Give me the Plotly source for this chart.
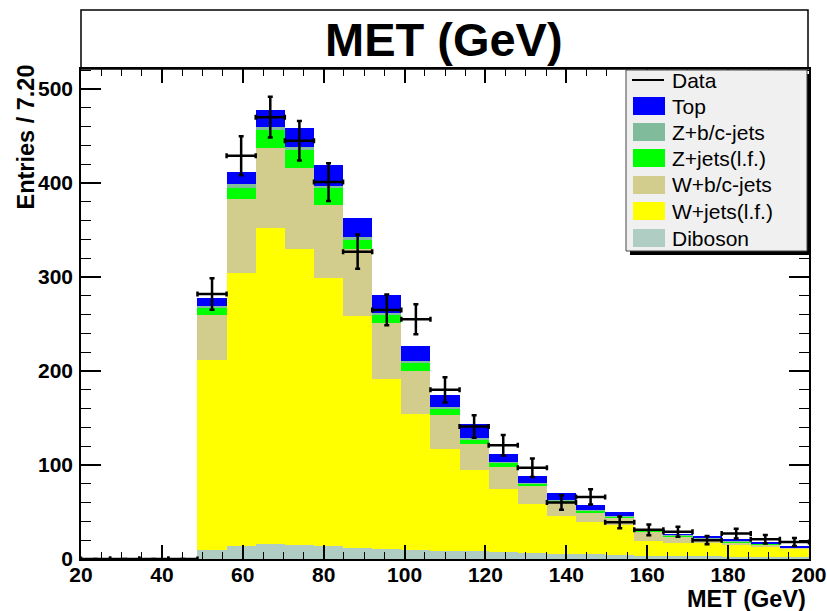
import plotly.graph_objects as go

# ---------------- data ----------------
bin_width = 7.2
bin_centers = [23.6, 30.8, 38.0, 45.2, 52.4, 59.6, 66.8, 74.0, 81.2, 88.4, 95.6, 102.8,
               110.0, 117.2, 124.4, 131.6, 138.8, 146.0, 153.2, 160.4, 167.6, 174.8,
               182.0, 189.2, 196.4]

data_counts = [0, 0, 0, 0, 282, 429, 470, 445, 401, 327, 265, 255, 180, 141, 121, 97,
               60, 66, 39, 31, 29, 20, 27, 21, 18]
data_err = [0, 0, 0, 0, 16.8, 20.7, 21.7, 21.1, 20.0, 18.1, 16.3, 16.0, 13.4, 11.9,
            11.0, 9.8, 7.7, 8.1, 6.2, 5.6, 5.4, 4.4, 5.2, 4.6, 4.3]

diboson = [0, 0, 0, 0, 10, 14, 16, 15, 14, 12, 11, 10, 9, 8, 7, 6, 5, 5, 4, 3, 3, 3, 2, 2, 2]
wjets_lf = [0, 0, 0, 0, 202, 290, 336, 315, 285, 246, 181, 144, 108, 87, 67, 53, 41, 34,
            32, 16.5, 14.4, 13.7, 13, 11.2, 8.9]
wjets_bc = [0, 0, 0, 0, 48, 79, 85, 86, 78, 72, 59, 46, 36, 27, 24, 19, 14, 10.6, 7.3,
            9.5, 6.4, 4.2, 2.4, 2.3, 1.1]
zjets_lf = [0, 0, 0, 0, 8, 11.5, 19, 19, 17.7, 9.5, 9, 9, 7, 5, 4.5, 2.1, 2, 2.1, 2.4,
            1.4, 1.7, 1.4, 1.1, 0.5, 0.5]
zjets_bc = [0, 0, 0, 0, 1, 4, 3.6, 3.6, 2.5, 3.6, 2, 2, 1.6, 1.5, 1, 0.8, 0.7, 0.6, 0.5,
            0.3, 0.3, 0.3, 0.2, 0.2, 0.1]
top = [0, 0, 0, 0, 9, 13.5, 17.7, 19.8, 21.6, 19.2, 19, 16, 13, 15, 8.2, 7, 7.3, 5.5,
       3.4, 0.9, 0.8, 1.2, 2.3, 1.2, 0.4]

# stack order bottom -> top
stack_names = ["Diboson", "W+jets(l.f.)", "W+b/c-jets", "Z+jets(l.f.)", "Z+b/c-jets", "Top"]
stack_values = [diboson, wjets_lf, wjets_bc, zjets_lf, zjets_bc, top]
stack_colors = ["#afcdc3", "#ffff00", "#d2cd8c", "#00ff00", "#80bc9c", "#0000ff"]

title_text = "MET (GeV)"
x_title = "MET (GeV)"
y_title = "Entries / 7.20"

# ---------------- figure ----------------
W, H = 827, 611
L, R, T, B = 81, 809, 69, 559   # plot area pixels


def px(x):
    return (x - L) / (R - L)


def py(y):
    return (B - y) / (B - T)


fig = go.Figure()
for name, vals, col in zip(stack_names, stack_values, stack_colors):
    fig.add_trace(go.Bar(
        x=bin_centers, y=vals, width=bin_width, name=name,
        marker=dict(color=col, line=dict(width=0)), showlegend=False))

fig.add_trace(go.Scatter(
    x=bin_centers, y=data_counts, mode="markers", name="Data",
    marker=dict(size=1, color="black"),
    error_x=dict(type="constant", value=bin_width / 2, width=2.5, thickness=2.5, color="black"),
    error_y=dict(type="data", array=data_err, width=2.5, thickness=2.5, color="black"),
    showlegend=False))

axis_font = dict(family="Liberation Sans", size=21, color="black", weight="bold")
title_font = dict(family="Liberation Sans", size=23.5, color="black", weight="bold")

fig.update_layout(
    width=W, height=H,
    margin=dict(l=L, r=W - R, t=T, b=H - B, pad=0, autoexpand=False),
    barmode="stack", bargap=0,
    paper_bgcolor="white", plot_bgcolor="white",
    showlegend=False,
    xaxis=dict(range=[20, 200], dtick=20, tick0=20, showgrid=False, zeroline=False,
               automargin=False,
               showline=True, linecolor="black", linewidth=1.5, mirror="ticks",
               ticks="inside", ticklen=14, tickwidth=1.5, tickcolor="black",
               minor=dict(ticks="inside", ticklen=7, dtick=5, tickcolor="black", tickwidth=1.2),
               tickfont=axis_font, ticklabelstandoff=-4),
    yaxis=dict(range=[0, 521.3], dtick=100, showgrid=False, zeroline=False,
               automargin=False,
               showline=True, linecolor="black", linewidth=1.5, mirror="ticks",
               ticks="inside", ticklen=20, tickwidth=1.5, tickcolor="black",
               minor=dict(ticks="inside", ticklen=10, dtick=20, tickcolor="black", tickwidth=1.2),
               tickfont=axis_font, ticklabelstandoff=2),
)

shapes = []
annotations = []

# title box
shapes.append(dict(type="rect", xref="paper", yref="paper",
                   x0=px(81), x1=px(808), y0=py(69), y1=py(10),
                   line=dict(color="black", width=1.5), fillcolor="rgba(0,0,0,0)"))
annotations.append(dict(text=title_text, xref="paper", yref="paper",
                        x=px(444), y=py(40), xanchor="center", yanchor="middle",
                        showarrow=False,
                        font=dict(family="Liberation Sans", size=47, color="black", weight="bold")))

# axis titles
annotations.append(dict(text=x_title, xref="paper", yref="paper",
                        x=px(808), y=py(599), xanchor="right", yanchor="middle",
                        showarrow=False, font=title_font))
annotations.append(dict(text=y_title, xref="paper", yref="paper",
                        x=px(25), y=py(63), xanchor="center", yanchor="top",
                        textangle=-90, showarrow=False, font=title_font))

# legend: shadow + box
shapes.append(dict(type="rect", xref="paper", yref="paper",
                   x0=px(630), x1=px(811), y0=py(255), y1=py(74),
                   line=dict(width=0), fillcolor="black"))
shapes.append(dict(type="rect", xref="paper", yref="paper",
                   x0=px(626), x1=px(807), y0=py(251), y1=py(70),
                   line=dict(color="#444444", width=1), fillcolor="#f0f0f0"))

leg_font = dict(family="Liberation Sans", size=21, color="black")
row_y = [80, 106, 132, 158, 185, 211, 238]
leg_names = ["Data"] + stack_names[::-1]
leg_colors = [None] + stack_colors[::-1]
for i, (nm, col) in enumerate(zip(leg_names, leg_colors)):
    yc = row_y[i]
    if col is None:
        shapes.append(dict(type="line", xref="paper", yref="paper",
                           x0=px(632), x1=px(664), y0=py(yc), y1=py(yc),
                           line=dict(color="black", width=2)))
    else:
        shapes.append(dict(type="rect", xref="paper", yref="paper",
                           x0=px(633), x1=px(665), y0=py(yc + 9), y1=py(yc - 9),
                           line=dict(width=0), fillcolor=col))
    annotations.append(dict(text=nm, xref="paper", yref="paper",
                            x=px(670), y=py(yc), xanchor="left", yanchor="middle",
                            showarrow=False, font=leg_font))

fig.update_layout(shapes=shapes, annotations=annotations)
fig.write_html("out.html")
